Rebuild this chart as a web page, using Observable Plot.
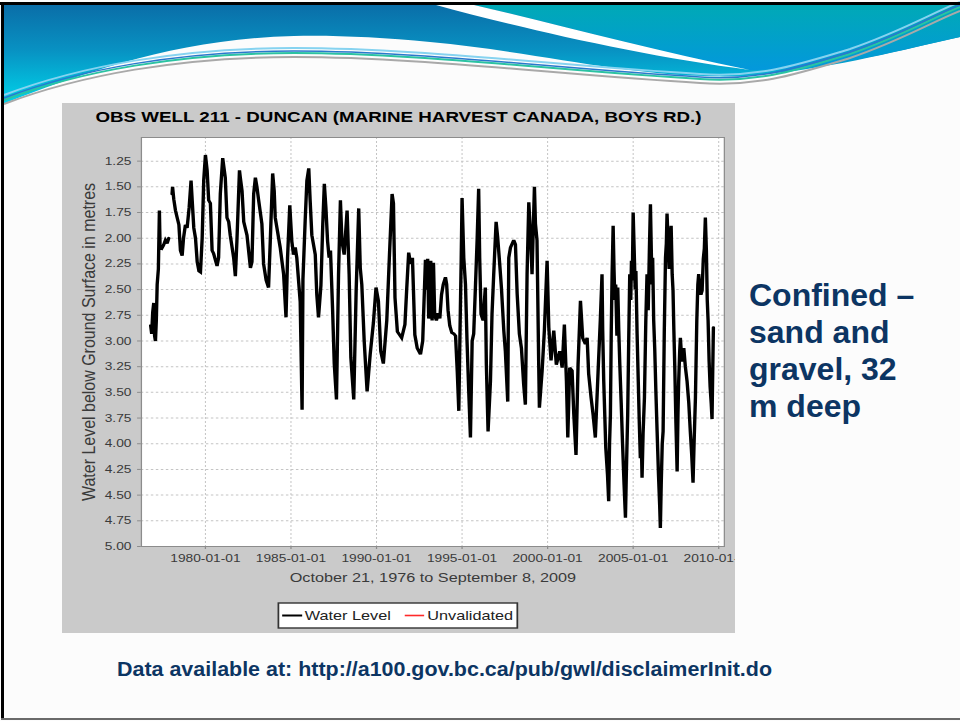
<!DOCTYPE html>
<html><head><meta charset="utf-8">
<script src="https://cdn.jsdelivr.net/npm/d3@7"></script>
<script src="https://cdn.jsdelivr.net/npm/@observablehq/plot@0.6"></script>
<style>
html,body{margin:0;padding:0;}
body{width:960px;height:721px;overflow:hidden;background:#fcfcfc;font-family:"Liberation Sans",Arial,sans-serif;position:relative;}
#deco{position:absolute;left:0;top:0;}
#chartbox{position:absolute;left:62px;top:103px;width:538px;height:530px;background:#cacaca;transform:scaleX(1.2509);transform-origin:0 0;overflow:hidden;}
#title{position:absolute;left:0;top:5px;width:538px;text-align:center;font-weight:bold;font-size:15px;line-height:18px;color:#000;white-space:nowrap;}
#plotwrap{position:absolute;left:0;top:0;}
#legend{position:absolute;left:0;top:0;}
#texts{position:absolute;left:0;top:0;}
</style>
</head><body>
<svg id="deco" width="960" height="721">
  <defs>
    <linearGradient id="gL" x1="0" y1="0" x2="0" y2="1">
      <stop offset="0" stop-color="#0a6ea8"/>
      <stop offset="0.45" stop-color="#0891c2"/>
      <stop offset="1" stop-color="#00d4ea"/>
    </linearGradient>
    <linearGradient id="gR" x1="0" y1="0" x2="0" y2="1">
      <stop offset="0" stop-color="#00a9b6"/>
      <stop offset="1" stop-color="#0398dc"/>
    </linearGradient>
  </defs>
  <path d="M3,5 H960 V37 C900,50 830,70 745,76 C640,80 540,52 430,42 C380,37 330,35 294,36 C180,39 90,70 3,104 Z" fill="url(#gL)"/>
  <path d="M474,5 H960 V37 C900,50 830,70 750,70 C650,50 560,25 474,5 Z" fill="url(#gR)"/>
  <path d="M436,5 H474 C560,25 650,50 750,70 C640,56 520,28 436,5 Z" fill="#ffffff"/>
  <g fill="none">
    <path d="M4,101 C80,72 180,54 294,54 C420,54 560,72 700,80 C760,84 800,70 850,55 C900,38 930,20 960,8" stroke="#a9a9a9" stroke-width="2" transform="translate(0,3)"/>
    <path d="M4,100 C80,71 180,53 294,53 C420,53 560,71 700,79 C760,83 800,69 850,54 C900,37 930,19 960,7" stroke="#2bc3a2" stroke-width="2"/>
    <path d="M4,99 C80,70 180,52 294,52 C420,52 560,70 700,78 C760,82 800,68 850,53 C900,36 930,18 960,6" stroke="#2a78cc" stroke-width="1.5" transform="translate(0,-1)"/>
    <path d="M4,98 C80,69 180,51 294,51 C420,51 560,69 700,77 C760,81 800,67 850,52 C900,35 930,17 960,5" stroke="#86d3f0" stroke-width="2" transform="translate(0,-3)"/>
  </g>
  <rect x="0" y="2" width="960" height="3" fill="#000"/>
  <rect x="1" y="2" width="3" height="718" fill="#000"/>
  <rect x="1" y="718" width="959" height="2" fill="#6a6a6a"/>
</svg>

<div id="chartbox">
  <div id="plotwrap"></div>
  <div id="title">OBS WELL 211 - DUNCAN (MARINE HARVEST CANADA, BOYS RD.)</div>
  <svg id="legend" width="538" height="530">
    <rect x="173" y="500" width="191" height="25" fill="#ffffff" stroke="#333" stroke-width="1.4"/>
    <line x1="176" x2="192" y1="512.5" y2="512.5" stroke="#000" stroke-width="2"/>
    <text x="194" y="517.5" font-size="13" fill="#222" font-family="Liberation Sans, Arial, sans-serif">Water Level</text>
    <line x1="274" x2="289.5" y1="512.5" y2="512.5" stroke="#ff2a2a" stroke-width="1.6"/>
    <text x="292" y="517.5" font-size="13" fill="#222" font-family="Liberation Sans, Arial, sans-serif">Unvalidated</text>
  </svg>
</div>

<svg id="texts" width="960" height="721">
  <g font-family="Liberation Sans, Arial, sans-serif" font-weight="bold" fill="#0c3563">
    <text x="749" y="306" font-size="32">Confined –</text>
    <text x="749" y="343" font-size="32">sand and</text>
    <text x="749" y="380" font-size="32">gravel, 32</text>
    <text x="749" y="417" font-size="32">m deep</text>
    <text x="117" y="676" font-size="19.5" textLength="655" lengthAdjust="spacingAndGlyphs">Data available at:  http://a100.gov.bc.ca/pub/gwl/disclaimerInit.do</text>
  </g>
</svg>

<script>
// Chart text
const chartTitle = "OBS WELL 211 - DUNCAN (MARINE HARVEST CANADA, BOYS RD.)";
const xLabel = "October 21, 1976 to September 8, 2009";
const yLabel = "Water Level below Ground Surface in metres";

// Tick values
const xTicks = [1980, 1985, 1990, 1995, 2000, 2005, 2010];
const yTicks = [1.25, 1.5, 1.75, 2.0, 2.25, 2.5, 2.75, 3.0, 3.25, 3.5, 3.75, 4.0, 4.25, 4.5, 4.75, 5.0];

// Water level (m below ground): [decimal year, level]
const obs1976to1984 = [
[1976.80,2.85],[1976.86,2.93],[1976.92,2.72],[1976.98,2.63],[1977.03,2.95],[1977.08,3.00],[1977.13,2.80],[1977.18,2.45],[1977.25,2.30],[1977.31,1.73],[1977.35,2.09],[1977.45,2.10],[1977.55,2.07],[1977.66,2.02],[1977.76,2.05],[1977.86,2.00],
[1977.95,NaN],
[1978.05,1.57],[1978.08,1.50],[1978.15,1.62],[1978.25,1.73],[1978.35,1.80],[1978.45,1.87],[1978.54,2.12],[1978.64,2.17],[1978.72,2.00],[1978.83,1.87],[1978.93,1.90],[1979.05,1.70],
[1979.16,1.44],[1979.32,1.90],[1979.42,2.00],[1979.52,2.23],[1979.62,2.32],[1979.71,2.33],[1979.81,2.00],[1979.90,1.44],
[1980.00,1.19],[1980.10,1.34],[1980.19,1.63],[1980.29,1.66],[1980.39,2.12],[1980.48,2.15],[1980.68,2.27],[1980.77,2.19],[1980.87,1.57],
[1981.01,1.22],[1981.16,1.41],[1981.26,1.80],[1981.36,1.84],[1981.45,1.97],[1981.65,2.19],[1981.75,2.37],[1981.84,2.03],
[1981.99,1.34],[1982.04,1.41],[1982.14,1.54],[1982.24,1.84],[1982.43,1.97],[1982.63,2.29],[1982.72,2.23],[1982.82,1.57],
[1982.92,1.41],[1983.01,1.50],[1983.11,1.63],[1983.30,1.86],[1983.40,2.25],[1983.55,2.41],[1983.69,2.48],[1983.79,2.03],
[1983.93,1.37],[1984.02,1.54],[1984.08,1.80],[1984.18,1.90],[1984.37,2.09],[1984.57,2.35],[1984.71,2.77],[1984.80,2.19],[1984.93,1.68]
];
const obs1985to1992 = [
[1985.05,2.03],[1985.15,2.16],[1985.25,2.09],[1985.34,2.19],[1985.54,2.62],[1985.60,3.20],[1985.65,3.67],[1985.70,2.40],[1985.83,1.83],[1985.93,1.44],
[1986.04,1.32],[1986.12,1.63],[1986.22,1.97],[1986.42,2.16],[1986.51,2.55],[1986.61,2.77],[1986.75,2.46],[1986.86,1.86],[1986.95,1.47],
[1987.04,1.70],[1987.14,2.03],[1987.23,2.19],[1987.31,2.12],[1987.43,2.68],[1987.53,3.22],[1987.66,3.57],[1987.78,2.35],[1987.89,1.63],
[1987.98,2.03],[1988.11,2.16],[1988.28,1.73],[1988.40,2.35],[1988.50,3.16],[1988.67,3.57],[1988.81,2.51],[1988.96,1.71],
[1989.05,2.29],[1989.14,2.45],[1989.28,3.00],[1989.45,3.49],[1989.63,3.13],[1989.82,2.82],[1989.97,2.48],
[1990.11,2.61],[1990.25,3.10],[1990.40,3.22],[1990.60,2.80],[1990.75,2.19],[1990.91,1.57],
[1990.99,1.66],[1991.08,2.58],[1991.22,2.91],[1991.47,2.97],[1991.66,2.84],[1991.76,2.51],[1991.88,2.14],
[1991.99,2.25],[1992.10,2.19],[1992.24,2.94],[1992.38,3.07],[1992.57,3.13],[1992.70,3.00],[1992.78,2.60],[1992.86,2.21],[1992.93,2.50]
];
const obs1993to2000 = [
[1992.99,2.20],[1993.05,2.78],[1993.12,2.75],[1993.17,2.22],[1993.25,2.80],[1993.33,2.24],[1993.40,2.75],[1993.50,2.80],[1993.60,2.73],[1993.70,2.78],[1993.80,2.55],[1993.90,2.45],
[1994.03,2.38],[1994.10,2.45],[1994.18,2.70],[1994.28,2.85],[1994.40,2.92],[1994.52,2.93],[1994.62,2.95],[1994.72,3.30],[1994.81,3.68],[1994.88,2.90],[1994.95,2.20],
[1995.00,1.61],[1995.10,2.19],[1995.20,2.45],[1995.29,3.00],[1995.39,3.49],[1995.49,3.94],[1995.59,3.00],[1995.68,2.93],[1995.78,2.48],[1995.88,2.02],[1995.97,1.52],
[1996.03,2.19],[1996.11,2.74],[1996.23,2.80],[1996.36,2.48],[1996.42,3.23],[1996.52,3.88],[1996.66,3.39],[1996.75,2.74],[1996.85,2.35],[1996.99,1.84],
[1997.08,1.99],[1997.20,2.25],[1997.30,2.48],[1997.44,2.90],[1997.53,3.10],[1997.67,3.59],[1997.73,2.19],[1997.83,2.09],[1998.02,2.02],
[1998.12,2.06],[1998.22,2.54],[1998.35,2.93],[1998.47,3.07],[1998.60,3.42],[1998.70,3.62],[1998.80,2.35],[1998.90,1.65],[1999.00,1.96],[1999.09,2.35],[1999.23,1.50],
[1999.29,1.86],[1999.38,2.02],[1999.48,3.23],[1999.52,3.65],[1999.68,3.29],[1999.81,2.90],[1999.97,2.22],
[2000.07,2.87],[2000.20,3.19],[2000.36,2.90],[2000.51,3.23],[2000.71,3.10],[2000.85,3.26]
];
const obs2001to2009 = [
[2000.98,2.84],[2001.10,3.39],[2001.18,3.94],[2001.29,3.26],[2001.43,3.29],[2001.53,3.71],[2001.66,4.11],[2001.78,3.23],[2001.92,2.61],
[2002.05,2.97],[2002.21,3.03],[2002.31,2.97],[2002.40,3.32],[2002.54,3.55],[2002.66,3.72],[2002.79,3.94],[2002.95,3.30],[2003.08,2.80],
[2003.18,2.35],[2003.22,2.90],[2003.28,3.39],[2003.40,4.04],[2003.50,4.30],[2003.57,4.56],[2003.62,4.00],[2003.67,3.72],[2003.72,2.90],[2003.77,2.35],[2003.83,1.88],[2003.88,2.30],[2003.93,2.60],[2003.98,2.45],[2004.05,2.95],[2004.10,2.48],[2004.16,2.90],
[2004.22,3.23],[2004.30,3.60],[2004.38,4.00],[2004.47,4.40],[2004.55,4.72],[2004.60,4.30],[2004.68,3.72],[2004.74,3.00],[2004.80,2.35],[2004.86,2.60],[2004.90,2.22],[2004.95,2.41],[2005.00,1.75],
[2005.06,2.12],[2005.12,2.50],[2005.16,2.32],[2005.23,2.93],[2005.30,3.40],[2005.36,3.80],[2005.42,4.14],[2005.48,4.00],[2005.52,4.33],[2005.58,3.90],[2005.66,3.55],[2005.74,2.80],[2005.81,2.35],[2005.88,2.70],[2005.95,2.10],[2006.01,1.67],
[2006.06,2.12],[2006.10,2.45],[2006.14,2.19],[2006.20,2.80],[2006.26,3.07],[2006.33,3.50],[2006.40,3.88],[2006.48,4.30],[2006.55,4.60],[2006.59,4.82],[2006.64,4.40],[2006.70,4.00],[2006.75,3.88],[2006.82,2.90],[2006.89,2.19],[2006.94,2.05],[2006.98,1.76],
[2007.04,2.02],[2007.10,2.30],[2007.16,2.02],[2007.22,1.88],[2007.28,2.35],[2007.33,2.51],[2007.38,2.90],[2007.43,3.23],[2007.50,3.80],[2007.57,4.27],[2007.62,3.70],[2007.66,3.40],[2007.72,3.10],[2007.76,2.97],[2007.85,3.20],[2007.96,3.07],
[2008.05,3.25],[2008.15,3.39],[2008.25,3.60],[2008.34,3.88],[2008.42,4.10],[2008.50,4.38],[2008.56,4.00],[2008.64,3.55],[2008.72,2.80],[2008.78,2.45],[2008.83,2.35],[2008.90,2.48],[2008.96,2.55],
[2009.03,2.51],[2009.10,2.20],[2009.16,2.10],[2009.22,1.80],[2009.28,2.12],[2009.33,2.60],[2009.38,2.80],[2009.44,3.20],[2009.50,3.45],[2009.56,3.60],[2009.61,3.76],[2009.65,3.30],[2009.69,2.87]
];

const series = [...obs1976to1984, ...obs1985to1992, ...obs1993to2000, ...obs2001to2009]
  .map(([t, v]) => ({t, v}));

const font = "Liberation Sans, Arial, sans-serif";
const chart = Plot.plot({
  width: 538,
  height: 530,
  marginLeft: 63,
  marginRight: 9,
  marginTop: 34,
  marginBottom: 87,
  style: {background: "transparent", fontFamily: font, fontSize: "11px", overflow: "visible"},
  x: {type: "linear", domain: [1976.26, 2010.33]},
  y: {type: "linear", domain: [5.0, 1.02]},
  marks: [
    Plot.frame({fill: "#ffffff", stroke: null}),
    Plot.gridX(xTicks, {stroke: "#c4c4c4", strokeOpacity: 1, strokeDasharray: "2,2", strokeWidth: 0.8}),
    Plot.gridY(yTicks, {stroke: "#c4c4c4", strokeOpacity: 1, strokeDasharray: "2,2", strokeWidth: 1}),
    Plot.line(series, {x: "t", y: "v", stroke: "#000", strokeWidth: 2.7, strokeLinejoin: "miter", strokeMiterlimit: 3, curve: "linear"}),
    Plot.frame({stroke: "#8c8c8c", strokeWidth: 1}),
    Plot.axisX(xTicks, {anchor: "bottom", tickSize: 3, tickPadding: 5, stroke: "#8c8c8c", fill: "#3a3a3a",
      tickFormat: d => `${d}-01-01`, label: null, fontSize: 11}),
    Plot.axisY(yTicks, {anchor: "left", tickSize: 3, tickPadding: 5, stroke: "#8c8c8c", fill: "#3a3a3a",
      tickFormat: d => d.toFixed(2), label: null, fontSize: 11}),
    Plot.text([yLabel], {frameAnchor: "left", textAnchor: "middle", rotate: -90, dx: -42, fontSize: 14, fill: "#3a3a3a", className: "ylab"}),
    Plot.text([xLabel], {frameAnchor: "bottom", dy: 35, fontSize: 13, fill: "#3a3a3a"})
  ]
});
document.getElementById("plotwrap").appendChild(chart);
document.getElementById("title").textContent = chartTitle;
// stretch the rotated y label to the length seen in the reference
chart.querySelectorAll(".ylab text").forEach(t => {
  t.setAttribute("textLength", "318");
  t.setAttribute("lengthAdjust", "spacingAndGlyphs");
});
</script>
</body></html>
